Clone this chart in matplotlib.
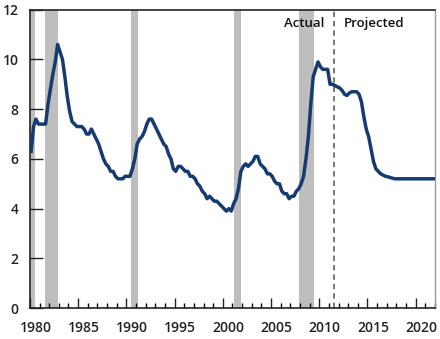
import numpy as np
import matplotlib
matplotlib.use("Agg")
import matplotlib.pyplot as plt
import matplotlib.transforms as mtransforms
from matplotlib.ticker import MultipleLocator

plt.rcParams["font.family"] = ["Open Sans", "DejaVu Sans"]

# 季度失业率（%），1980Q1 起
start_year = 1980
actual_rate = [
    6.3, 7.3, 7.6, 7.4,   # 1980
    7.4, 7.4, 7.4, 8.2,   # 1981
    8.8, 9.4, 9.9, 10.6,  # 1982
    10.3, 10.0, 9.3, 8.5,  # 1983
    7.9, 7.5, 7.4, 7.3,   # 1984
    7.3, 7.3, 7.2, 7.0,   # 1985
    7.0, 7.2, 7.0, 6.8,   # 1986
    6.6, 6.3, 6.0, 5.8,   # 1987
    5.7, 5.5, 5.5, 5.3,   # 1988
    5.2, 5.2, 5.2, 5.3,   # 1989
    5.3, 5.3, 5.6, 6.0,   # 1990
    6.6, 6.8, 6.9, 7.1,   # 1991
    7.4, 7.6, 7.6, 7.4,   # 1992
    7.2, 7.0, 6.8, 6.6,   # 1993
    6.5, 6.2, 6.0, 5.6,   # 1994
    5.5, 5.7, 5.7, 5.6,   # 1995
    5.5, 5.5, 5.3, 5.3,   # 1996
    5.2, 5.0, 4.9, 4.7,   # 1997
    4.6, 4.4, 4.5, 4.4,   # 1998
    4.3, 4.3, 4.2, 4.1,   # 1999
    4.0, 3.9, 4.0, 3.9,   # 2000
    4.2, 4.4, 4.8, 5.5,   # 2001
    5.7, 5.8, 5.7, 5.8,   # 2002
    5.9, 6.1, 6.1, 5.8,   # 2003
    5.7, 5.6, 5.4, 5.4,   # 2004
    5.3, 5.1, 5.0, 5.0,   # 2005
    4.7, 4.6, 4.6, 4.4,   # 2006
    4.5, 4.5, 4.7, 4.8,   # 2007
    5.0, 5.3, 6.0, 6.9,   # 2008
    8.2, 9.3, 9.6, 9.9,   # 2009
    9.7, 9.6, 9.6, 9.6,   # 2010
]
projected_rate = [
    9.0, 9.0, 8.95, 8.9,    # 2011
    8.85, 8.75, 8.6, 8.55,  # 2012
    8.65, 8.7, 8.7, 8.7,    # 2013
    8.6, 8.3, 7.7, 7.2,     # 2014
    6.9, 6.4, 5.9, 5.6,     # 2015
    5.5, 5.4, 5.35, 5.3,    # 2016
    5.28, 5.25, 5.22, 5.2,  # 2017
    5.2, 5.2, 5.2, 5.2,     # 2018
    5.2, 5.2, 5.2, 5.2,     # 2019
    5.2, 5.2, 5.2, 5.2,     # 2020
    5.2, 5.2, 5.2, 5.2,     # 2021
]

# 衰退期（起止年份）
recessions = [(1980.0, 1980.5), (1981.55, 1982.9), (1990.5, 1991.2),
              (2001.2, 2001.9), (2007.95, 2009.45)]
split_year = 2011.5

rate = np.array(actual_rate + projected_rate)
t = start_year + np.arange(len(rate)) / 4 + 0.125

fig = plt.figure(figsize=(4.4, 3.39), dpi=100)
ax = fig.add_axes([0.068, 0.091, 0.9205, 0.8805])

for r0, r1 in recessions:
    ax.axvspan(r0, r1, color="#bebebe", lw=0, zorder=1)

ax.axvline(split_year, color="#6e6e6e", lw=1.3, ls=(0, (3, 2.2)), zorder=2)
ax.plot(t, rate, color="#173b70", lw=2.5, solid_joinstyle="round", zorder=3)

ax.text(split_year - 1.0, 11.45, "Actual", ha="right", va="center",
        fontsize=9.5, fontweight="semibold", color="#111111")
ax.text(split_year + 1.0, 11.45, "Projected", ha="left", va="center",
        fontsize=9.5, fontweight="semibold", color="#111111")

ax.set_xlim(1980, 2022)
ax.set_ylim(0, 12)
ax.set_yticks([0, 2, 4, 6, 8, 10, 12])
ax.set_xticks(range(1980, 2021, 5))
ax.xaxis.set_minor_locator(MultipleLocator(1))

ax.tick_params(axis="y", direction="in", length=9, width=1, pad=8,
               labelsize=10, colors="#222222")
ax.tick_params(axis="x", which="major", direction="in", length=7, width=1,
               pad=9, labelsize=10, colors="#222222")
ax.tick_params(axis="x", which="minor", direction="in", length=3.5, width=1)
for lab in ax.get_xticklabels() + ax.get_yticklabels():
    lab.set_fontweight("semibold")

# x 轴标签略微右移
offset = mtransforms.ScaledTranslation(5.5 / 100, 0, fig.dpi_scale_trans)
for lab in ax.get_xticklabels():
    lab.set_transform(lab.get_transform() + offset)

for side in ["left", "bottom", "top"]:
    ax.spines[side].set_color("#222222")
    ax.spines[side].set_linewidth(1.2)
ax.spines["right"].set_color("#9a9a9a")
ax.spines["right"].set_linewidth(1.0)

fig.savefig("out.png", dpi=100)
